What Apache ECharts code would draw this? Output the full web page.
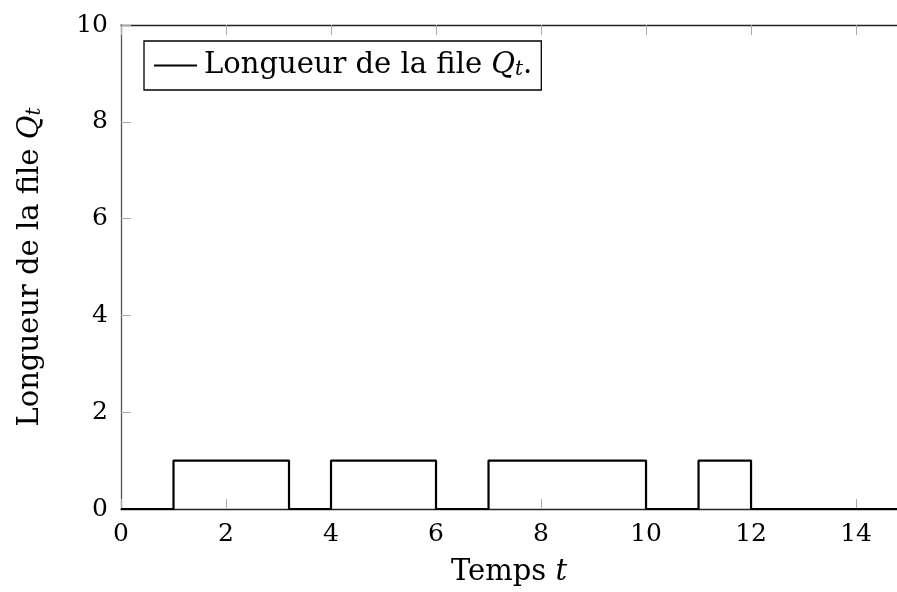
<!DOCTYPE html>
<html><head><meta charset="utf-8">
<script src="https://cdn.jsdelivr.net/npm/echarts@6/dist/echarts.min.js"></script>
<style>html,body{margin:0;padding:0;background:#fff}#c{width:897px;height:592px}</style>
</head><body><div id="c"></div>
<script>
const times = [0, 1, 3.2, 4, 6, 7, 10, 11, 12, 15];
const queue = [0, 1, 0, 1, 0, 1, 0, 1, 0, 0];
const xTicks = [0, 2, 4, 6, 8, 10, 12, 14];
const yTicks = [0, 2, 4, 6, 8, 10];
const seriesName = 'Longueur de la file';

const FONT = 'DejaVu Serif';
const chart = echarts.init(document.getElementById('c'), null, {renderer: 'canvas'});
const data = times.map((t, i) => [t, queue[i]]);
const rich = {
  n: {fontFamily: FONT, fontSize: 29, color: '#000'},
  q: {fontFamily: FONT, fontSize: 29, fontStyle: 'italic', color: '#000'},
  s: {fontFamily: FONT, fontSize: 20, fontStyle: 'italic', color: '#000', verticalAlign: 'bottom', padding: [9, 0, 0, 0]}
};
chart.setOption({
  animation: false,
  grid: {left: 121, right: 0, top: 25, bottom: 81},
  legend: {
    show: true, left: 144, top: 41, orient: 'horizontal',
    borderColor: '#000', borderWidth: 1.3, padding: [10, 9, 10, 10],
    itemWidth: 43, itemHeight: 2, itemGap: 4, icon: 'rect',
    data: [{name: seriesName, itemStyle: {color: '#000'}}],
    formatter: n => '{n|' + n + ' }{q|Q}{s|t}{n|.}',
    textStyle: {rich: rich, fontFamily: FONT, fontSize: 29, padding: [0, 0, 0, 2]}
  },
  xAxis: [{
    type: 'value', min: 0, max: 14.78, interval: 2, position: 'bottom',
    name: '{n|Temps }{q|t}', nameLocation: 'middle', nameGap: 49,
    nameTextStyle: {rich: rich},
    axisLine: {show: true, lineStyle: {color: '#222', width: 1.3}},
    axisTick: {show: true, inside: true, length: 10, lineStyle: {color: '#aaa', width: 1}},
    axisLabel: {show: true, fontFamily: FONT, fontSize: 25, color: '#000', margin: 13,
      showMaxLabel: false, formatter: v => xTicks.includes(v) ? String(v) : ''},
    splitLine: {show: false}
  }, {
    type: 'value', min: 0, max: 14.78, interval: 2, position: 'top',
    axisLine: {show: true, onZero: false, lineStyle: {color: '#222', width: 1.3}},
    axisTick: {show: true, inside: true, length: 10, lineStyle: {color: '#aaa', width: 1}},
    axisLabel: {show: false}, splitLine: {show: false}
  }],
  yAxis: {
    type: 'value', min: 0, max: 10, interval: 2,
    name: '{n|Longueur de la file }{q|Q}{s|t}', nameLocation: 'middle', nameGap: 76, nameRotate: 90,
    nameTextStyle: {rich: rich},
    axisLine: {show: true, lineStyle: {color: '#555', width: 1.3}},
    axisTick: {show: true, inside: true, length: 10, lineStyle: {color: '#aaa', width: 1}},
    axisLabel: {show: true, fontFamily: FONT, fontSize: 25, color: '#000', margin: 13,
      formatter: v => yTicks.includes(v) ? String(v) : ''},
    splitLine: {show: false}
  },
  series: [{
    name: seriesName, type: 'line', step: 'end', data: data,
    xAxisIndex: 0, showSymbol: false, symbol: 'none', clip: true,
    lineStyle: {color: '#000', width: 2.2}, itemStyle: {color: '#000'}
  }]
});
</script></body></html>
